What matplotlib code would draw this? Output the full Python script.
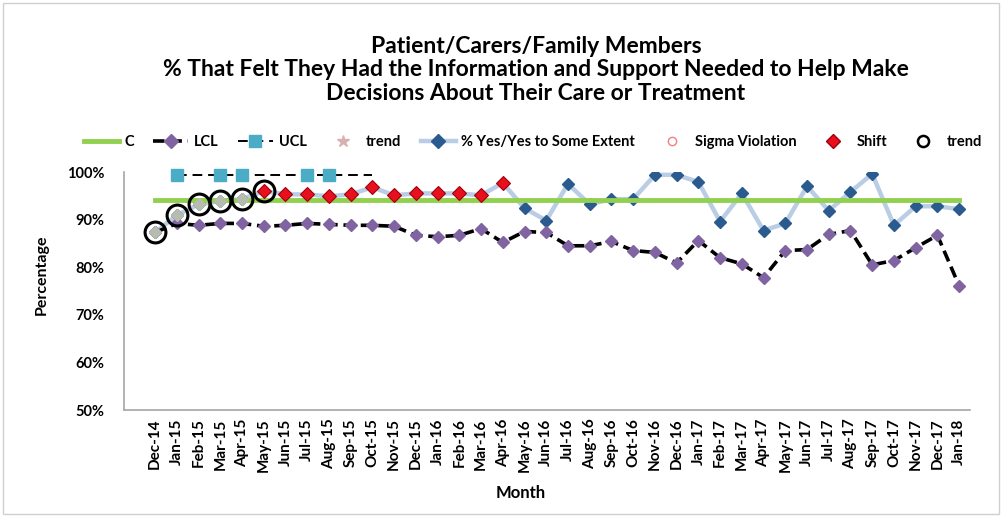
import matplotlib
matplotlib.use('Agg')
import matplotlib.pyplot as plt
from matplotlib.lines import Line2D
from matplotlib.patches import Rectangle
from matplotlib.ticker import FuncFormatter
import numpy as np

plt.rcParams['font.family'] = ['Lato', 'DejaVu Sans']
plt.rcParams['font.weight'] = 'bold'

months = ['Dec-14', 'Jan-15', 'Feb-15', 'Mar-15', 'Apr-15', 'May-15', 'Jun-15', 'Jul-15',
          'Aug-15', 'Sep-15', 'Oct-15', 'Nov-15', 'Dec-15', 'Jan-16', 'Feb-16', 'Mar-16',
          'Apr-16', 'May-16', 'Jun-16', 'Jul-16', 'Aug-16', 'Sep-16', 'Oct-16', 'Nov-16',
          'Dec-16', 'Jan-17', 'Feb-17', 'Mar-17', 'Apr-17', 'May-17', 'Jun-17', 'Jul-17',
          'Aug-17', 'Sep-17', 'Oct-17', 'Nov-17', 'Dec-17', 'Jan-18']

# % yes / yes to some extent
pct_yes = [87.3, 90.9, 93.2, 93.9, 94.3, 96.0, 95.3, 95.3, 94.9, 95.3, 96.8, 95.1,
           95.5, 95.5, 95.5, 95.1, 97.7, 92.4, 89.8, 97.5, 93.2, 94.3, 94.3, 99.4,
           99.4, 97.9, 89.6, 95.5, 87.7, 89.2, 97.0, 91.9, 95.8, 99.6, 88.8, 92.8,
           92.8, 92.2]
lcl = [87.3, 89.2, 88.8, 89.2, 89.2, 88.6, 88.8, 89.2, 89.0, 88.8, 88.8, 88.6,
       86.7, 86.4, 86.7, 88.1, 85.2, 87.5, 87.3, 84.5, 84.5, 85.4, 83.5, 83.1,
       80.9, 85.6, 82.0, 80.7, 77.8, 83.5, 83.7, 86.9, 87.7, 80.5, 81.4, 84.1,
       86.7, 76.1]
centre = 94.2
ucl_months = months[1:11]
ucl = [99.4] * 10
ucl_marked = [0, 2, 3, 6, 7]          # UCL points shown with a marker
shift_idx = list(range(5, 17))       # May-15 .. Apr-16
trend_idx = list(range(0, 6))        # Dec-14 .. May-15
sigma_idx = []                       # no sigma violations

x = np.arange(len(months))
W, H = 1005, 517
fig = plt.figure(figsize=(W / 100, H / 100), dpi=100)
ax = fig.add_axes([124 / W, 107 / H, 846 / W, 238 / H])

pct = np.array(pct_yes)
ax.plot(x, pct, color='#b9cde5', lw=3.2, zorder=2, label='% Yes/Yes to Some Extent',
        marker='D', ms=6.5, mfc='#2a5a8e', mec='#2a5a8e')
ax.plot(x, [centre] * len(x), color='#92d050', lw=3.5, zorder=3, label='C')
ax.plot(x, lcl, color='black', lw=2.6, ls=(0, (3.2, 1.6)), zorder=4,
        marker='D', ms=6.5, mfc='#8064a2', mec='#8064a2', label='LCL')
ux = x[1:11]
ax.plot(ux, ucl, color='black', lw=1.4, ls=(0, (5, 3)), zorder=4,
        marker='s', ms=8, mfc='#4bacc6', mec='#4bacc6', markevery=ucl_marked,
        label='UCL', clip_on=False)
ax.plot(x[shift_idx], pct[shift_idx], ls='none', marker='D', ms=7.5,
        mfc='#e8101c', mec='#a00010', mew=0.8, zorder=6, label='Shift')
ax.plot(x[sigma_idx], pct[sigma_idx], ls='none', marker='o', ms=6,
        mfc='none', mec='#f08080', zorder=6, label='Sigma Violation')
ax.plot(x[trend_idx[:-1]], pct[trend_idx[:-1]], ls='none', marker='D', ms=6.5,
        mfc='#b8bcae', mec='#b8bcae', zorder=5)
ax.plot(x[trend_idx], pct[trend_idx], ls='none', marker='o', ms=15,
        mfc='none', mec='black', mew=2.2, zorder=7, label='trend', clip_on=False)

ax.set_xlim(-1.43, 37.5)
ax.set_ylim(50, 100)
ax.set_yticks([50, 60, 70, 80, 90, 100])
ax.yaxis.set_major_formatter(FuncFormatter(lambda v, p: f'{v:.0f}%'))
ax.set_xticks(x)
ax.set_xticklabels(months, rotation=90, fontsize=11, fontweight='bold')
ax.tick_params(axis='both', length=0, pad=6)
ax.tick_params(axis='y', labelsize=10.5, pad=14)
for s in ['top', 'right']:
    ax.spines[s].set_visible(False)
for s in ['left', 'bottom']:
    ax.spines[s].set_color('#a6a6a6')
    ax.spines[s].set_linewidth(1.2)

fig.text(521 / W, 1 - 493 / H, 'Month', ha='center', va='center', fontsize=12, fontweight='bold')
fig.text(42 / W, 1 - 275 / H, 'Percentage', ha='center', va='center', rotation=90,
         fontsize=11.5, fontweight='bold')

fig.text(536 / W, 1 - 70 / H,
         'Patient/Carers/Family Members\n'
         '% That Felt They Had the Information and Support Needed to Help Make\n'
         'Decisions About Their Care or Treatment',
         ha='center', va='center', fontsize=16.5, fontweight='bold', linespacing=1.12)

handles = [
    Line2D([], [], color='#92d050', lw=3.5),
    Line2D([], [], color='black', lw=2.6, ls=(0, (3.2, 1.6)), marker='D', ms=7,
           mfc='#8064a2', mec='#8064a2'),
    Line2D([], [], color='black', lw=1.4, ls=(0, (5, 3)), marker='s', ms=8,
           mfc='#4bacc6', mec='#4bacc6'),
    Line2D([], [], ls='none', marker='*', ms=9, color='#d8b0b0'),
    Line2D([], [], color='#b9cde5', lw=3.2, marker='D', ms=7, mfc='#2a5a8e', mec='#2a5a8e'),
    Line2D([], [], ls='none', marker='o', ms=6, mfc='none', mec='#f08080'),
    Line2D([], [], ls='none', marker='D', ms=7, mfc='#e8101c', mec='#a00010'),
    Line2D([], [], ls='none', marker='o', ms=8, mfc='none', mec='black', mew=1.8),
]
labels = ['C', 'LCL', 'UCL', 'trend', '% Yes/Yes to Some Extent', 'Sigma Violation',
          'Shift', 'trend']
fig.legend(handles, labels, loc='center', bbox_to_anchor=(533 / W, 1 - 142 / H),
           ncol=8, frameon=False, prop={'size': 10.5, 'weight': 'bold'},
           handlelength=2.4, handletextpad=0.4, columnspacing=1.3)

fig.add_artist(Rectangle((3 / W, 3 / H), 996 / W, 511 / H, transform=fig.transFigure,
                         fill=False, ec='#d0d0d0', lw=1))

fig.savefig('out.png', dpi=100)
